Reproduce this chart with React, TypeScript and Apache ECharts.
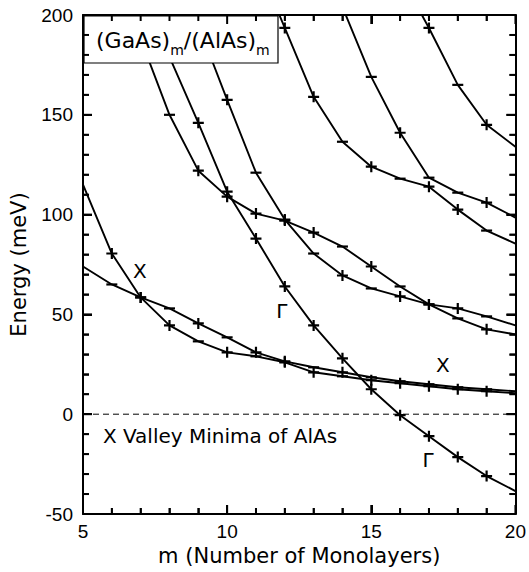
import React, { useEffect, useRef } from "react";
import * as echarts from "echarts";

// ---- data (m = number of monolayers, E = energy in meV) ----
// marker codes: "+" cross, "-" dash, "." no marker
const XA_M = [5, 6, 7, 8, 9, 10, 11, 12, 13, 14, 15, 16, 17, 18, 19, 20];
const XA_E = [115, 80.5, 58.5, 44.5, 36.5, 31, 29, 26, 21, 19, 17, 15.5, 14, 12.5, 11.5, 10.5];
const XA_MK = ".+++-+-++-+++++.";

const XB_M = [5, 6, 7, 8, 9, 10, 11, 12, 13, 14, 15, 16, 17, 18, 19, 20];
const XB_E = [74, 65, 58.5, 53, 45.5, 38.5, 31, 26.5, 23.5, 21, 18.5, 16.5, 15, 13.5, 12.5, 11.5];
const XB_MK = ".-+-+-++-+-----.";

const G_M = [8, 9, 10, 11, 12, 13, 14, 15, 16, 17, 18, 19, 20];
const G_E = [179, 146, 111.5, 88, 64, 44.5, 28, 12.5, -0.5, -11, -21.5, -31, -38.5];
const G_MK = ".+++++++++++.";

const A_M = [7, 8, 9, 10, 11, 12, 13, 14, 15, 16, 17, 18, 19, 20];
const A_E = [188, 150, 122, 109, 100.5, 97, 91, 84, 74, 64, 55, 48, 42.5, 40];
const A_MK = ".-+++++-+-+-+.";

const C_M = [9, 10, 11, 12, 13, 14, 15, 16, 17, 18, 19, 20];
const C_E = [195, 157.5, 121, 97.5, 80.5, 69.5, 63, 59, 55, 53, 49, 44.5];
const C_MK = ".+-+-+-+++-.";

const P1_M = [11, 12, 13, 14, 15, 16, 17, 18, 19, 20];
const P1_E = [228, 193.5, 159, 136.5, 124, 118, 114, 102.5, 92, 85.5];
const P1_MK = ".++-+-++-.";

const P2_M = [14, 15, 16, 17, 18, 19, 20];
const P2_E = [204, 169, 141, 118.5, 111, 106, 98.5];
const P2_MK = ".-+--+.";

const P3_M = [16, 17, 18, 19, 20];
const P3_E = [220, 193.5, 165, 145, 134];
const P3_MK = ".+-+.";

const ZERO_M = [5, 20];
const ZERO_E = [0, 0];

const ANN_TEXT = ["X", "Γ", "X", "Γ", "X Valley Minima of AlAs"];
const ANN_M = [6.97, 11.9, 17.48, 16.97, 5.69];
const ANN_E = [71.5, 51.5, 24.5, -23, -11];

const X_MIN = 5;
const X_MAX = 20;
const X_INT = 5;
const Y_MIN = -50;
const Y_MAX = 200;
const Y_INT = 50;

// tick positions (major where divisible by the interval)
const X_TICKS = [5, 6, 7, 8, 9, 10, 11, 12, 13, 14, 15, 16, 17, 18, 19, 20];
const Y_TICKS = [-50, -40, -30, -20, -10, 0, 10, 20, 30, 40, 50, 60, 70, 80, 90, 100, 110, 120, 130, 140, 150, 160, 170, 180, 190, 200];

const TITLE_MAIN1 = "(GaAs)";
const TITLE_SUB = "m";
const TITLE_MAIN2 = "/(AlAs)";

const PLUS = "path://M4,0L6,0L6,4L10,4L10,6L6,6L6,10L4,10L4,6L0,6L0,4L4,4Z";
const DASH = "path://M0,0L10,0L10,2L0,2Z";

const NUM_FONT = "'Liberation Sans', Arial, sans-serif";
const TXT_FONT = "'DejaVu Sans', sans-serif";

function buildData(ms: number[], es: number[], mk: string) {
  return ms.map((m, i) => {
    const c = mk[i];
    if (c === "+") return { value: [m, es[i]], symbol: PLUS, symbolSize: [11, 11] };
    if (c === "-") return { value: [m, es[i]], symbol: DASH, symbolSize: [11, 2.2] };
    return { value: [m, es[i]], symbol: "none" };
  });
}

const CURVES: [number[], number[], string][] = [
  [XA_M, XA_E, XA_MK],
  [XB_M, XB_E, XB_MK],
  [G_M, G_E, G_MK],
  [A_M, A_E, A_MK],
  [C_M, C_E, C_MK],
  [P1_M, P1_E, P1_MK],
  [P2_M, P2_E, P2_MK],
  [P3_M, P3_E, P3_MK],
];

const mkLine = () => ({ show: true, onZero: false, lineStyle: { color: "#000", width: 2 } });
const mkTick = () => ({ show: true, inside: true, length: 9, lineStyle: { color: "#000", width: 2 } });
const mkMinor = () => ({ show: true, splitNumber: 5, length: 6, lineStyle: { color: "#000", width: 1.5 } });

export default function App() {
  const ref = useRef<HTMLDivElement>(null);
  useEffect(() => {
    document.body.style.margin = "0";
    const chart = echarts.init(ref.current!, null, { renderer: "svg" });
    const series: any[] = CURVES.map(([ms, es, mk], i) => ({
      type: "line",
      name: "curve" + i,
      z: 2,
      silent: true,
      clip: true,
      showSymbol: true,
      data: buildData(ms, es, mk),
      lineStyle: { color: "#000", width: 1.9 },
      itemStyle: { color: "#000" },
    }));
    series.push({
      type: "line",
      name: "zero",
      z: 2,
      silent: true,
      symbol: "none",
      data: ZERO_M.map((m, i) => [m, ZERO_E[i]]),
      lineStyle: { color: "#000", width: 1, type: [6, 4] },
    });
    series.push({
      type: "scatter",
      name: "labels",
      z: 3,
      silent: true,
      symbol: "circle",
      symbolSize: 0,
      itemStyle: { color: "#000" },
      data: ANN_TEXT.map((t, i) => ({
        name: t,
        value: [ANN_M[i], ANN_E[i]],
        label: { align: t.length > 2 ? "left" : "center" },
      })),
      label: {
        show: true,
        position: "inside",
        formatter: (p: any) => p.name,
        color: "#000",
        opacity: 1,
        textBorderWidth: 0,
        fontSize: 20,
        fontFamily: TXT_FONT,
        verticalAlign: "middle",
      },
    });
    // inward ticks on all four sides, placed through the axes' own scales
    series.push({
      type: "custom",
      name: "ticks",
      z: 10,
      silent: true,
      clip: false,
      data: X_TICKS.map((v) => [v, 0]).concat(Y_TICKS.map((v) => [v, 1])),
      renderItem: (_params: any, api: any) => {
        const v = api.value(0);
        const kind = api.value(1);
        const style = { stroke: "#000", lineWidth: 2 };
        if (kind === 0) {
          const len = v % X_INT === 0 ? 9 : 6;
          const b = api.coord([v, Y_MIN]);
          const t = api.coord([v, Y_MAX]);
          return {
            type: "group",
            children: [
              { type: "line", shape: { x1: b[0], y1: b[1], x2: b[0], y2: b[1] - len }, style },
              { type: "line", shape: { x1: t[0], y1: t[1], x2: t[0], y2: t[1] + len }, style },
            ],
          };
        }
        const len = v % Y_INT === 0 ? 9 : 6;
        const l = api.coord([X_MIN, v]);
        const r = api.coord([X_MAX, v]);
        return {
          type: "group",
          children: [
            { type: "line", shape: { x1: l[0], y1: l[1], x2: l[0] + len, y2: l[1] }, style },
            { type: "line", shape: { x1: r[0], y1: r[1], x2: r[0] - len, y2: r[1] }, style },
          ],
        };
      },
    });
    chart.setOption({
      animation: false,
      grid: { left: 83, right: 11, top: 15, bottom: 58 },
      xAxis: [
        {
          type: "value",
          position: "bottom",
          min: X_MIN,
          max: X_MAX,
          interval: X_INT,
          axisLine: mkLine(),
          axisTick: mkTick(),
          minorTick: mkMinor(),
          splitLine: { show: false },
          name: "m (Number of Monolayers)",
          nameLocation: "middle",
          nameGap: 28,
          nameTextStyle: { color: "#000", fontSize: 21, fontFamily: TXT_FONT },
          axisLabel: { show: true, margin: 8, color: "#000", fontSize: 19, fontFamily: NUM_FONT },
        },
        {
          type: "value",
          position: "top",
          min: X_MIN,
          max: X_MAX,
          interval: X_INT,
          axisLine: mkLine(),
          axisTick: mkTick(),
          minorTick: mkMinor(),
          splitLine: { show: false },
          axisLabel: { show: false },
        },
      ],
      yAxis: [
        {
          type: "value",
          position: "left",
          min: Y_MIN,
          max: Y_MAX,
          interval: Y_INT,
          axisLine: mkLine(),
          axisTick: mkTick(),
          minorTick: mkMinor(),
          splitLine: { show: false },
          name: "Energy (meV)",
          nameLocation: "middle",
          nameRotate: 90,
          nameGap: 54,
          nameTextStyle: { color: "#000", fontSize: 21, fontFamily: TXT_FONT },
          axisLabel: { show: true, margin: 10, color: "#000", fontSize: 19, fontFamily: NUM_FONT },
        },
        {
          type: "value",
          position: "right",
          min: Y_MIN,
          max: Y_MAX,
          interval: Y_INT,
          axisLine: mkLine(),
          axisTick: mkTick(),
          minorTick: mkMinor(),
          splitLine: { show: false },
          axisLabel: { show: false },
        },
      ],
      graphic: [
        {
          type: "rect",
          z: 5,
          silent: true,
          shape: { x: 84, y: 16, width: 194, height: 47 },
          style: { fill: "#fff", stroke: "#000", lineWidth: 1.2 },
        },
        {
          type: "text",
          z: 6,
          silent: true,
          x: 96,
          y: 43,
          style: {
            text: `{a|${TITLE_MAIN1}}{s|${TITLE_SUB}}{a|${TITLE_MAIN2}}{s|${TITLE_SUB}}`,
            verticalAlign: "middle",
            rich: {
              a: { fontSize: 22, fontFamily: TXT_FONT, fill: "#000", lineHeight: 24, verticalAlign: "top" },
              s: { fontSize: 14, fontFamily: TXT_FONT, fill: "#000", lineHeight: 28, verticalAlign: "bottom" },
            },
          },
        },
      ],
      series,
    });
    return () => chart.dispose();
  }, []);
  return <div ref={ref} style={{ width: 529, height: 572 }} />;
}
